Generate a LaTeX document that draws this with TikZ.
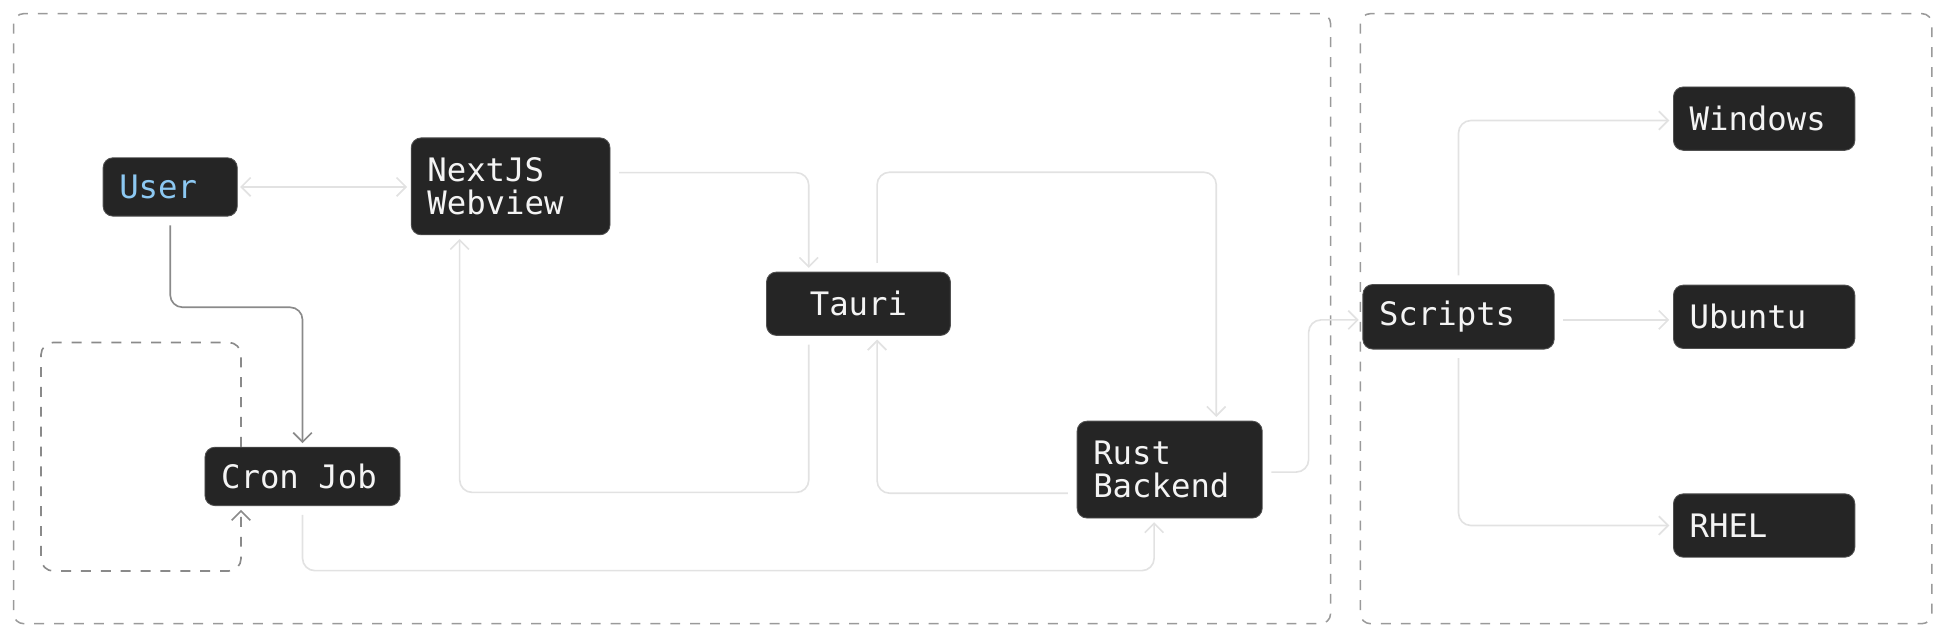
\documentclass[tikz,border=0pt]{standalone}
\usepackage{fontspec}
\newfontfamily\boxfont{DejaVu Sans Mono}
\usetikzlibrary{arrows.meta}
\definecolor{boxfill}{HTML}{252525}
\definecolor{boxline}{HTML}{505050}
\definecolor{boxtext}{HTML}{F4F4F4}
\definecolor{usertext}{HTML}{8CC8F2}
\definecolor{lightline}{HTML}{E2E2E2}
\definecolor{darkline}{HTML}{8A8A8A}
\definecolor{frameline}{HTML}{9A9A9A}
\begin{document}
\begin{tikzpicture}[x=0.2mm, y={(0mm,-0.2mm)},
    >={Straight Barb[length=1.5mm,width=3mm]},
    box/.style 2 args={draw=boxline, fill=boxfill, text=boxtext, rounded corners=1.6mm,
      font=\boxfont\fontsize{14.8}{15.1}\selectfont,
      inner xsep=2.6mm, inner ysep=0pt, text width=#1, minimum height=#2},
    light/.style={draw=lightline, line width=0.75pt, rounded corners=2mm,
      shorten <=1.4mm, shorten >=0.6mm},
    dark/.style={draw=darkline, line width=0.75pt, rounded corners=2mm,
      shorten <=1.4mm, shorten >=0.6mm},
    frame/.style={draw=frameline, line width=0.7pt, dash pattern=on 1.6mm off 1.6mm,
      rounded corners=1.6mm}]
  \useasboundingbox (0,0) rectangle (1568,515);

  % frames
  \draw[frame] (11,11) rectangle (1071,502);
  \draw[frame] (1095,11) rectangle (1555,502);

  % nodes
  \node[box={16.4mm}{9.4mm}, text=usertext] (user) at (137,150.5) {User};
  \node[box={26.8mm}{15.6mm}] (nextjs) at (411,150) {NextJS\\Webview};
  \node[box={24.4mm}{10.2mm}, align=center] (tauri) at (691,244.5) {Tauri};
  \node[box={26.2mm}{9.4mm}] (cron) at (243.5,383.5) {Cron\hspace{.602em}Job};
  \node[box={24.6mm}{15.6mm}] (rust) at (941.5,378) {Rust\\Backend};
  \node[box={25.6mm}{10.4mm}] (scripts) at (1174,255) {Scripts};
  \node[box={24mm}{10.2mm}] (windows) at (1420,95.5) {Windows};
  \node[box={24mm}{10.2mm}] (ubuntu) at (1420,255) {Ubuntu};
  \node[box={24mm}{10.2mm}] (rhel) at (1420,423) {RHEL};

  % connectors
  \draw[light, <->, shorten <=0.4mm] (user.east) -- (user.east -| nextjs.west);
  \draw[dark, ->] (user.south) -- ++(0,73) -| (cron.north);
  \draw[dark, ->, dash pattern=on 1.6mm off 1.6mm, shorten <=0pt]
    ([xshift=-9.9mm]cron.north) -- ++(0,-84) -- ++(-161,0) -- ++(0,184)
    -- ++(161,0) -- ([xshift=-9.9mm]cron.south);
  \draw[light, ->] ([yshift=2.2mm]nextjs.east) -| ([xshift=-8mm]tauri.north);
  \draw[light, ->] ([xshift=-8mm]tauri.south) -- ++(0,126) -| ([xshift=-8.2mm]nextjs.south);
  \draw[light, ->] ([xshift=3mm]tauri.north) -- ++(0,-80) -| ([xshift=7.5mm]rust.north);
  \draw[light, ->] ([yshift=-3.8mm]rust.west) -| ([xshift=3mm]tauri.south);
  \draw[light, ->] (cron.south) -- ++(0,52) -| ([xshift=-2.5mm]rust.south);
  \draw[light, ->] ([yshift=-0.4mm]rust.east) -- ++(37,0) |- ([yshift=-0.5mm]scripts.west);
  \draw[light, ->] (scripts.north) |- ([yshift=-0.3mm]windows.west);
  \draw[light, ->] ([yshift=-0.5mm]scripts.east) -- ([yshift=-0.5mm]ubuntu.west);
  \draw[light, ->] (scripts.south) |- (rhel.west);
\end{tikzpicture}
\end{document}
